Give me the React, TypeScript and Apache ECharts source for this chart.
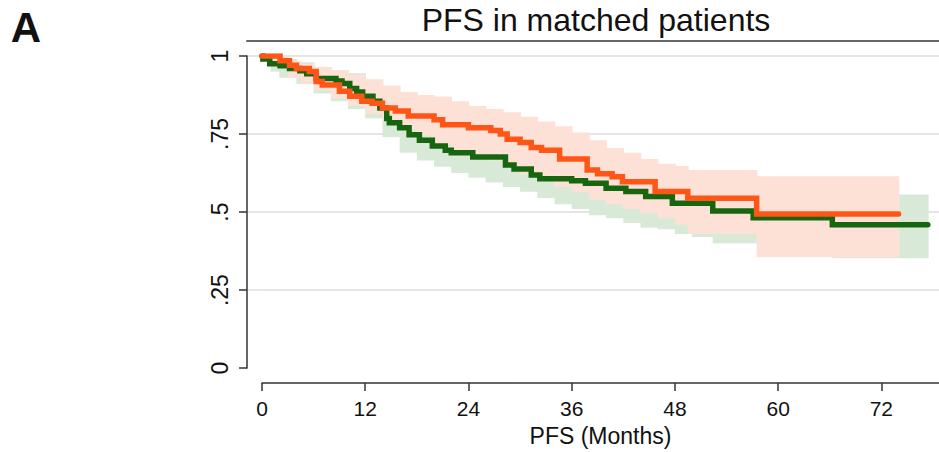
import React, { useEffect, useRef } from 'react';
import * as echarts from 'echarts';

const chartTitle = 'PFS in matched patients';
const panelLabel = 'A';
const xAxisName = 'PFS (Months)';
const yTickLabels: Record<string, string> = { '0': '0', '0.25': '.25', '0.5': '.5', '0.75': '.75', '1': '1' };

// Kaplan-Meier curves (months, survival)
const greenTimes = [0, 0.1, 0.9, 2.1, 3.2, 4.4, 5.2, 6.3, 8.6, 9.3, 10.2, 11, 11.7, 12.9, 13.7, 14.5, 14.8, 16, 17.1, 18.3, 19.8, 21.3, 22, 24.5, 28.3, 29.3, 31.3, 32.3, 36, 37.6, 40, 42.3, 44.6, 47.7, 52.4, 57.1, 66.3, 77.4];
const greenSurv = [1, 0.99, 0.975, 0.969, 0.96, 0.953, 0.943, 0.928, 0.92, 0.912, 0.896, 0.885, 0.871, 0.855, 0.833, 0.8, 0.786, 0.77, 0.748, 0.73, 0.712, 0.698, 0.69, 0.676, 0.651, 0.638, 0.619, 0.607, 0.6, 0.592, 0.576, 0.566, 0.55, 0.528, 0.503, 0.482, 0.459, 0.459];

const orangeTimes = [0, 2.1, 3.2, 4, 5.5, 6.3, 7, 9, 10.2, 11.6, 12.8, 14, 15.5, 17, 20, 21, 24, 26.6, 27.7, 28.5, 30, 31.3, 32.5, 34.6, 37.8, 39, 40.7, 41.9, 45.7, 49.5, 57.5, 74];
const orangeSurv = [1, 0.985, 0.97, 0.96, 0.95, 0.918, 0.907, 0.887, 0.871, 0.855, 0.849, 0.833, 0.824, 0.808, 0.796, 0.78, 0.77, 0.761, 0.75, 0.733, 0.723, 0.707, 0.698, 0.67, 0.635, 0.623, 0.613, 0.597, 0.566, 0.544, 0.494, 0.494];

// Confidence bands (value holds from each time to the next)
const greenBandTimes = [0, 1, 2, 4, 6, 8, 10, 12, 14, 16, 18, 20, 22, 24, 26, 28, 30, 32, 34, 36, 38, 40, 42, 44, 46, 48, 50, 52.4, 57.1, 66.3, 74, 77.4];
const greenBandLow = [1, 0.95, 0.93, 0.91, 0.88, 0.855, 0.83, 0.8, 0.74, 0.69, 0.665, 0.645, 0.625, 0.61, 0.595, 0.58, 0.565, 0.545, 0.525, 0.51, 0.49, 0.48, 0.465, 0.45, 0.445, 0.43, 0.42, 0.4, 0.4, 0.352, 0.352, 0.352];
const greenBandHigh = [1, 1, 0.99, 0.98, 0.965, 0.955, 0.945, 0.925, 0.9, 0.86, 0.84, 0.82, 0.8, 0.78, 0.77, 0.75, 0.73, 0.71, 0.695, 0.68, 0.665, 0.65, 0.64, 0.625, 0.61, 0.6, 0.585, 0.57, 0.556, 0.556, 0.556, 0.556];

const orangeBandTimes = [0, 1.5, 3, 4.5, 6, 8, 10, 12, 14, 16, 18, 20, 22, 24, 26, 28, 30, 32, 34, 36, 38, 40, 42, 44, 46, 48, 49.5, 53, 57.5, 74];
const orangeBandLow = [1, 0.96, 0.93, 0.91, 0.89, 0.865, 0.84, 0.815, 0.79, 0.765, 0.745, 0.72, 0.7, 0.68, 0.665, 0.645, 0.62, 0.6, 0.58, 0.565, 0.54, 0.525, 0.51, 0.495, 0.48, 0.46, 0.43, 0.43, 0.355, 0.355];
const orangeBandHigh = [1, 1, 0.985, 0.975, 0.965, 0.955, 0.94, 0.925, 0.905, 0.885, 0.875, 0.87, 0.855, 0.84, 0.83, 0.82, 0.805, 0.79, 0.775, 0.755, 0.73, 0.705, 0.69, 0.67, 0.655, 0.648, 0.635, 0.635, 0.615, 0.615];

const FONT = '"Liberation Sans", Arial, Helvetica, sans-serif';
const GREEN = '#17660f';
const ORANGE = '#ff5516';
const GREEN_BAND = '#d8ead7';
const ORANGE_BAND = '#fde1d6';
const AXIS = '#333333';
const GRID = '#dddddd';
const AXIS_OFFSET = 15;

const zip = (a: number[], b: number[]) => a.map((v, i) => [v, b[i]]);
// one row per step interval: [start, end, low, high]
const bandRows = (t: number[], lo: number[], hi: number[]) =>
  t.slice(0, -1).map((v, i) => [v, t[i + 1], lo[i], hi[i]]);

const bandSeries = (name: string, rows: number[][], color: string, z: number) => ({
  name,
  type: 'custom',
  silent: true,
  z,
  clip: true,
  encode: { x: [0, 1], y: [2, 3] },
  data: rows,
  renderItem: (params: any, api: any) => {
    const p0 = api.coord([api.value(0), api.value(3)]);
    const p1 = api.coord([api.value(1), api.value(2)]);
    return {
      type: 'rect',
      shape: { x: p0[0], y: p0[1], width: p1[0] - p0[0] + 0.8, height: p1[1] - p0[1] },
      style: { fill: color },
    };
  },
});

export default function App() {
  const ref = useRef<HTMLDivElement>(null);
  useEffect(() => {
    if (!ref.current) return;
    const chart = echarts.init(ref.current, undefined, { renderer: 'svg' });
    chart.setOption({
      animation: false,
      grid: { left: 262, right: -6, top: 56, bottom: 78, containLabel: false },
      xAxis: {
        type: 'value', min: 0, max: 78.7, interval: 12, offset: AXIS_OFFSET,
        name: xAxisName, nameLocation: 'middle', nameGap: 36,
        nameTextStyle: { fontFamily: FONT, fontSize: 23, color: '#111' },
        axisLine: { show: true, onZero: false, lineStyle: { color: AXIS, width: 1.5 } },
        axisTick: { show: true, length: 8, lineStyle: { color: AXIS, width: 1.5 } },
        axisLabel: { fontFamily: FONT, fontSize: 21, color: '#111', margin: 15, showMaxLabel: false },
        splitLine: { show: false },
      },
      yAxis: {
        type: 'value', min: 0, max: 1, interval: 0.25, offset: AXIS_OFFSET,
        axisLine: { show: true, onZero: false, lineStyle: { color: AXIS, width: 1.5 } },
        axisTick: { show: true, length: 8, lineStyle: { color: AXIS, width: 1.5 } },
        axisLabel: {
          fontFamily: FONT, fontSize: 23, color: '#111', rotate: 90, margin: 16,
          formatter: (v: number) => yTickLabels[String(v)] ?? String(v),
        },
        splitLine: { show: true, showMinLine: false, lineStyle: { color: GRID, width: 1.5 } },
      },
      series: [
        bandSeries('greenCI', bandRows(greenBandTimes, greenBandLow, greenBandHigh), GREEN_BAND, 1),
        bandSeries('orangeCI', bandRows(orangeBandTimes, orangeBandLow, orangeBandHigh), ORANGE_BAND, 2),
        {
          name: 'green', type: 'line', step: 'end', data: zip(greenTimes, greenSurv), symbol: 'none', z: 5,
          lineStyle: { color: GREEN, width: 5.5, cap: 'round', join: 'miter' },
        },
        {
          name: 'orange', type: 'line', step: 'end', data: zip(orangeTimes, orangeSurv), symbol: 'none', z: 6,
          lineStyle: { color: ORANGE, width: 5.5, cap: 'round', join: 'miter' },
        },
      ],
    });

    // frame top line and grid line stubs between y axis line and plot start
    const x0 = chart.convertToPixel({ xAxisIndex: 0 }, 0) as number;
    const axisX = x0 - AXIS_OFFSET;
    const yTop = (chart.convertToPixel({ yAxisIndex: 0 }, 1) as number) - AXIS_OFFSET;
    const stubs = [0.25, 0.5, 0.75, 1].map((v) => {
      const y = chart.convertToPixel({ yAxisIndex: 0 }, v) as number;
      return { type: 'line', shape: { x1: axisX + 1, y1: y, x2: x0, y2: y }, style: { stroke: GRID, lineWidth: 1.5 }, z: 0, silent: true };
    });
    chart.setOption({
      graphic: [
        ...stubs,
        { type: 'line', shape: { x1: axisX - 0.75, y1: yTop, x2: 945, y2: yTop }, style: { stroke: AXIS, lineWidth: 1.5 }, z: 10, silent: true },
        {
          type: 'text', x: 596, y: 19.5,
          style: { text: chartTitle, fontFamily: FONT, fontSize: 32, fill: '#111', textAlign: 'center', textVerticalAlign: 'middle' },
        },
        {
          type: 'text', x: 26, y: 27,
          style: { text: panelLabel, fontFamily: FONT, fontSize: 42, fontWeight: 'bold', fill: '#111', textAlign: 'center', textVerticalAlign: 'middle' },
        },
      ],
    });
    return () => chart.dispose();
  }, []);
  return <div ref={ref} style={{ position: 'fixed', left: 0, top: 0, width: 939, height: 452, background: '#fff' }} />;
}
